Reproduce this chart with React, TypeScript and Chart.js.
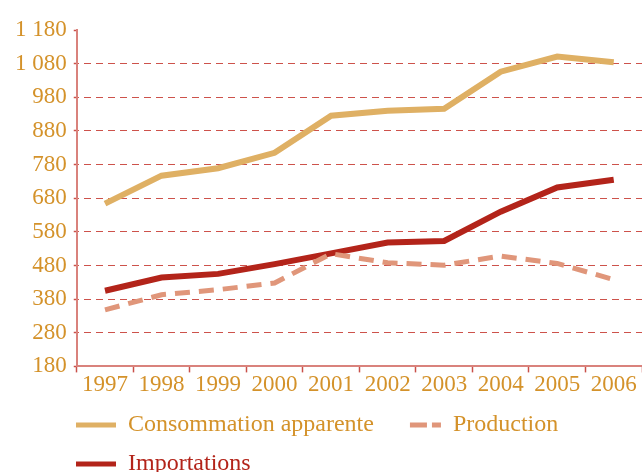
import React, { useEffect, useRef } from 'react';
import { Chart, registerables } from 'chart.js';

Chart.register(...registerables);

const years = ['1997', '1998', '1999', '2000', '2001', '2002', '2003', '2004', '2005', '2006'];
const consommation = [664, 747, 769, 815, 925, 940, 946, 1056, 1101, 1084];
const production = [348, 393, 408, 428, 515, 488, 481, 508, 486, 438];
const importations = [405, 444, 455, 484, 516, 548, 553, 640, 712, 735];
const seriesLabels = ['Consommation apparente', 'Production', 'Importations'];
const yMin = 180;
const yMax = 1180;
const yStep = 100;

const GOLD_TEXT = '#d4922a';
const C_CONSO = '#dfb064';
const C_PROD = '#e0967a';
const C_IMPORT = '#b3241a';
const AXIS = '#d9827c';
const GRID = 'rgba(196,52,44,0.85)';
const TICK = '#c9504a';
const FONT = '"Liberation Serif", "Times New Roman", serif';

const legendTextColors = [GOLD_TEXT, GOLD_TEXT, C_IMPORT];

const formatThousands = (v: number) => {
  const n = Math.round(v);
  if (n >= 1000) {
    return Math.floor(n / 1000) + ' ' + String(n % 1000).padStart(3, '0');
  }
  return String(n);
};

const legendShift = {
  id: 'legendShift',
  afterLayout(chart: any) {
    const lg = chart.legend;
    if (lg) {
      lg.left += 53;
    }
  },
};

export default function App() {
  const ref = useRef<HTMLCanvasElement | null>(null);

  useEffect(() => {
    if (!ref.current) return;
    const chart = new Chart(ref.current, {
      type: 'line',
      data: {
        labels: years,
        datasets: [
          {
            label: seriesLabels[0],
            data: consommation,
            borderColor: C_CONSO,
            backgroundColor: C_CONSO,
            borderWidth: 6,
            pointRadius: 0,
            tension: 0,
          },
          {
            label: seriesLabels[1],
            data: production,
            borderColor: C_PROD,
            backgroundColor: C_PROD,
            borderWidth: 5,
            borderDash: [15, 9],
            pointRadius: 0,
            tension: 0,
          },
          {
            label: seriesLabels[2],
            data: importations,
            borderColor: C_IMPORT,
            backgroundColor: C_IMPORT,
            borderWidth: 6,
            pointRadius: 0,
            tension: 0,
          },
        ],
      },
      options: {
        animation: false,
        responsive: false,
        layout: { padding: { left: 8, top: 30, right: 0, bottom: -14 } },
        plugins: {
          tooltip: { enabled: false },
          legend: {
            position: 'bottom',
            align: 'start',
            labels: {
              usePointStyle: true,
              pointStyleWidth: 40,
              boxWidth: 40,
              padding: 15,
              font: { family: FONT, size: 24 },
              color: GOLD_TEXT,
              generateLabels: (c: any) =>
                c.data.datasets.map((ds: any, i: number) => ({
                  text: i === 0 ? ds.label + '\u2002' : ds.label,
                  fillStyle: ds.borderColor,
                  strokeStyle: ds.borderColor,
                  lineWidth: 5,
                  lineDash: i === 1 ? [17, 5, 17, 9] : [],
                  lineDashOffset: i === 1 ? 39 : 0,
                  pointStyle: 'line',
                  fontColor: legendTextColors[i],
                  hidden: false,
                  datasetIndex: i,
                })),
            },
          },
        },
        scales: {
          x: {
            type: 'category',
            offset: true,
            grid: {
              offset: true,
              drawOnChartArea: false,
              drawTicks: true,
              tickLength: 6,
              tickColor: TICK,
              tickWidth: 1.5,
            },
            border: { display: true, color: AXIS, width: 2 },
            ticks: {
              color: GOLD_TEXT,
              font: { family: FONT, size: 23 },
              padding: -1,
              maxRotation: 0,
              autoSkip: false,
            },
          },
          y: {
            min: yMin,
            max: yMax,
            grid: {
              color: (ctx: any) =>
                ctx.tick && (ctx.tick.value === yMax || ctx.tick.value === yMin) ? 'rgba(0,0,0,0)' : GRID,
              lineWidth: 1,
              drawTicks: true,
              tickLength: 3,
              tickColor: TICK,
              tickWidth: 1.5,
            },
            border: { display: true, color: AXIS, width: 2, dash: [7, 5], dashOffset: -6 },
            ticks: {
              stepSize: yStep,
              color: GOLD_TEXT,
              font: { family: FONT, size: 23 },
              padding: 7,
              callback: (v: any) => formatThousands(Number(v)),
            },
          },
        },
      },
      plugins: [legendShift],
    } as any);
    return () => chart.destroy();
  }, []);

  return (
    <div style={{ position: 'absolute', left: 0, top: 0, width: 642, height: 472, background: '#fff' }}>
      <canvas ref={ref} width={642} height={472} style={{ display: 'block' }} />
    </div>
  );
}
